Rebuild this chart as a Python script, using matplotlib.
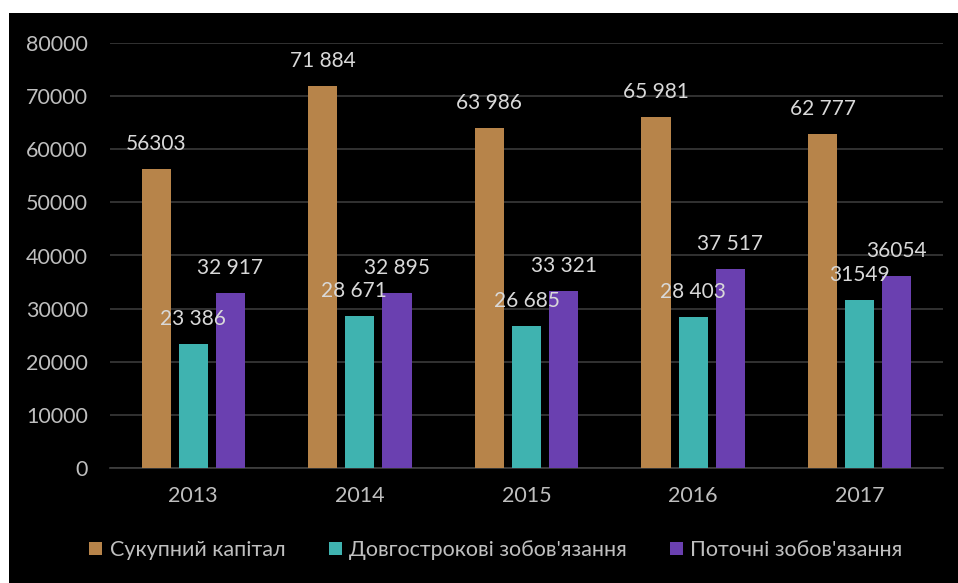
import matplotlib
matplotlib.use("Agg")
import numpy as np
import matplotlib.pyplot as plt
from matplotlib.patches import Rectangle

plt.rcParams['font.family'] = ['Lato', 'DejaVu Sans']

years = ["2013", "2014", "2015", "2016", "2017"]
series_names = ["Сукупний капітал", "Довгострокові зобов'язання", "Поточні зобов'язання"]
total_capital = [56303, 71884, 63986, 65981, 62777]
long_term = [23386, 28671, 26685, 28403, 31549]
current = [32917, 32895, 33321, 37517, 36054]
# which data labels use a space as thousands separator
grouped = [
    [False, True, True, True, True],
    [True, True, True, True, False],
    [True, True, True, True, False],
]
colors = ["#B7844A", "#3FB3B0", "#6A40B0"]
yticks = [0, 10000, 20000, 30000, 40000, 50000, 60000, 70000, 80000]


def fmt(v, space):
    s = f"{v:,}"
    return s.replace(",", " ") if space else s.replace(",", "")


fig = plt.figure(figsize=(9.58, 5.83), dpi=100)
fig.patch.set_facecolor("white")
# black panel behind the chart
fig.add_artist(Rectangle((9 / 958, 0), 1, 1 - 13 / 583, transform=fig.transFigure,
                         facecolor="black", edgecolor="none", zorder=0))

ax = fig.add_axes([110 / 958, 1 - 468 / 583, 833 / 958, 425 / 583])
ax.set_facecolor("black")

x = np.arange(len(years))
width = 0.175
step = 0.223
data = [total_capital, long_term, current]
for i, vals in enumerate(data):
    pos = x + (i - 1) * step
    ax.bar(pos, vals, width=width, color=colors[i], label=series_names[i], zorder=3)
    for j, v in enumerate(vals):
        dx = -6 if (i == 1 and j == 1) else 0
        ax.annotate(fmt(v, grouped[i][j]), xy=(pos[j], v), xytext=(dx, 25),
                    textcoords="offset pixels", ha="center", va="center",
                    color="#d9d9d9", fontsize=15, zorder=4)

ax.set_xlim(-0.5, 4.5)
ax.set_ylim(0, 80000)
ax.set_yticks(yticks)
ax.set_yticklabels([str(t) for t in yticks])
ax.set_xticks(x)
ax.set_xticklabels(years)
ax.tick_params(axis="y", length=0, pad=16, colors="#bfbfbf", labelsize=15.5)
ax.tick_params(axis="x", length=0, pad=13, colors="#bfbfbf", labelsize=15.5)
ax.grid(axis="y", color="#3a3a3a", linewidth=1.2, zorder=1)
for side in ["top", "right", "left"]:
    ax.spines[side].set_visible(False)
ax.spines["bottom"].set_color("#404040")
ax.spines["bottom"].set_linewidth(1.2)

leg = fig.legend(loc="center", bbox_to_anchor=(496 / 958, 1 - 550 / 583), ncol=3,
                 frameon=False, fontsize=15.5, handlelength=0.6, handleheight=0.6,
                 handletextpad=0.35, columnspacing=2.0)
for t in leg.get_texts():
    t.set_color("#bfbfbf")

fig.savefig("out.png", dpi=100, facecolor=fig.get_facecolor())
